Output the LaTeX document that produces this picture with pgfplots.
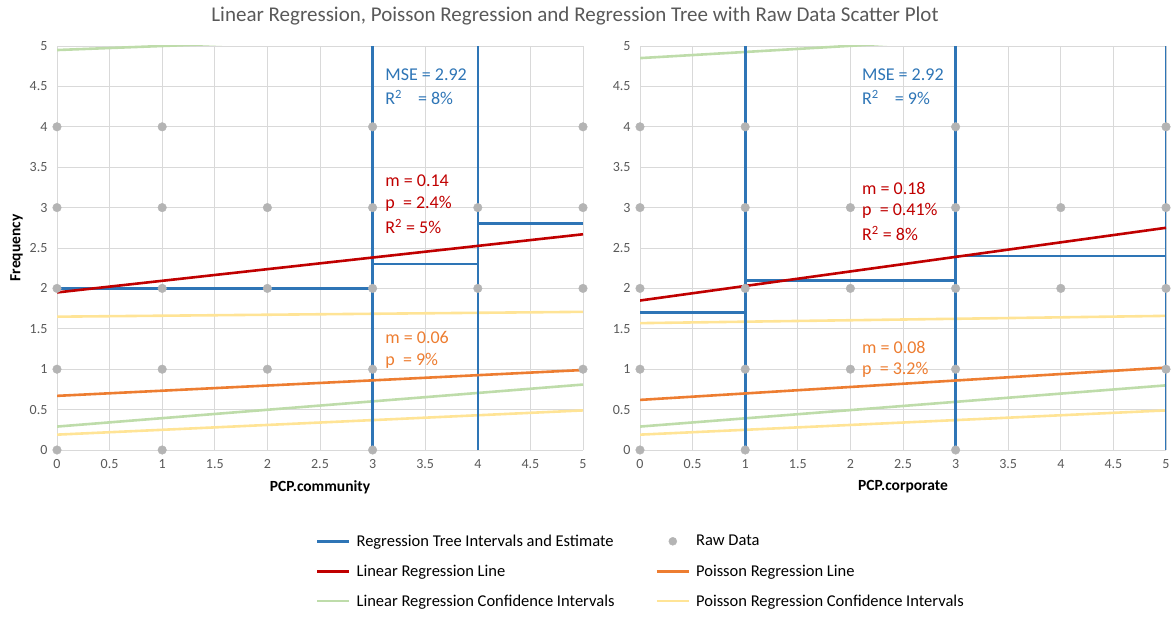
\documentclass[border=0pt]{standalone}
\usepackage{fontspec}
\setmainfont{Carlito}
\usepackage{pgfplots}
\pgfplotsset{compat=1.18}
\definecolor{treeblue}{RGB}{46,117,182}
\definecolor{linred}{RGB}{192,0,0}
\definecolor{poisorange}{RGB}{237,125,49}
\definecolor{cigreen}{RGB}{190,220,170}
\definecolor{ciyellow}{RGB}{255,228,150}
\definecolor{dotgray}{RGB}{180,180,180}
\definecolor{gridgray}{RGB}{217,217,217}
\definecolor{txtgray}{RGB}{89,89,89}
\tikzset{
  ln/.style={line width=2.6pt},
  ann/.style={font=\fontsize{18}{20}\selectfont, anchor=west, inner sep=0pt},
}
\pgfplotsset{
  base/.style={
    scale only axis, width=526pt, height=404pt,
    xmin=0, xmax=5, ymin=0, ymax=5,
    xtick={0,0.5,1,1.5,2,2.5,3,3.5,4,4.5,5},
    ytick={0,0.5,1,1.5,2,2.5,3,3.5,4,4.5,5},
    grid=major, major grid style={gridgray, line width=0.9pt},
    axis line style={draw=none}, major tick length=0pt,
    /pgf/number format/assume math mode=true,
    tick label style={font=\fontsize{14}{16}\selectfont, text=txtgray},
    xticklabel style={yshift=-6pt},
    yticklabel style={xshift=-6pt},
    label style={font=\bfseries\fontsize{15.5}{17}\selectfont},
    xlabel style={yshift=-5pt},
    clip mode=individual,
  },
}
\begin{document}
\begin{tikzpicture}
\useasboundingbox (-57pt,-174pt) rectangle (1117pt,450pt);
% ---------------- left axis
\begin{axis}[base, at={(0pt,0pt)}, anchor=south west,
  xlabel={PCP.community}, ylabel={Frequency},
  ylabel style={yshift=0pt},
  legend columns=2,
  legend style={at={(1.11,-0.300)}, anchor=center, draw=none,
    font=\fontsize{16.5}{18}\selectfont, column sep=4pt,
    /tikz/column 2/.style={column sep=39pt},
    row sep=13pt, inner sep=0pt},
  legend cell align=left,
  legend image code/.code={\draw[#1] (0pt,0pt) -- (32pt,0pt);},
]
\addlegendimage{treeblue, line width=2.6pt}
\addlegendentry{Regression Tree Intervals and Estimate}
\addlegendimage{legend image code/.code={\fill[dotgray] (16pt,0pt) circle (4pt);}}
\addlegendentry{Raw Data}
\addlegendimage{linred, line width=2.6pt}
\addlegendentry{Linear Regression Line}
\addlegendimage{poisorange, line width=2.6pt}
\addlegendentry{Poisson Regression Line}
\addlegendimage{cigreen, line width=2.6pt}
\addlegendentry{Linear Regression Confidence Intervals}
\addlegendimage{ciyellow, line width=2.6pt}
\addlegendentry{Poisson Regression Confidence Intervals}
% CI lines
\addplot[cigreen, ln, forget plot] coordinates {(0,0.29) (5,0.81)};
\addplot[cigreen, ln, forget plot] coordinates {(0,4.95) (5,5.2)};
\addplot[ciyellow, ln, forget plot] coordinates {(0,1.65) (5,1.71)};
\addplot[ciyellow, ln, forget plot] coordinates {(0,0.19) (5,0.49)};
% tree
\addplot[treeblue, ln, forget plot] coordinates {(3,0) (3,5)};
\addplot[treeblue, ln, forget plot] coordinates {(4,0) (4,5)};
\addplot[treeblue, ln, forget plot] coordinates {(0,2) (3,2)};
\addplot[treeblue, ln, forget plot] coordinates {(3,2.3) (4,2.3)};
\addplot[treeblue, ln, forget plot] coordinates {(4,2.8) (5,2.8)};
% regressions
\addplot[poisorange, ln, forget plot] coordinates {(0,0.67) (5,0.99)};
\addplot[linred, ln, forget plot] coordinates {(0,1.95) (5,2.67)};
% raw data
\addplot[only marks, mark=*, mark size=4.3pt, dotgray, forget plot] coordinates {
(0,0) (0,1) (0,2) (0,3) (0,4)
(1,0) (1,1) (1,2) (1,3) (1,4)
(2,1) (2,2) (2,3)
(3,0) (3,1) (3,2) (3,3) (3,4)
(4,2) (4,3)
(5,1) (5,2) (5,3) (5,4)};
\node[ann, text=treeblue] at (axis cs:3.12,4.64) {MSE = 2.92};
\node[ann, text=treeblue] at (axis cs:3.12,4.36) {R\textsuperscript{2}\hspace{16pt}= 8\%};
\node[ann, text=linred] at (axis cs:3.12,3.33) {m = 0.14};
\node[ann, text=linred] at (axis cs:3.12,3.05) {p\ \ = 2.4\%};
\node[ann, text=linred] at (axis cs:3.12,2.77) {R\textsuperscript{2} = 5\%};
\node[ann, text=poisorange] at (axis cs:3.12,1.39) {m = 0.06};
\node[ann, text=poisorange] at (axis cs:3.12,1.10) {p\ \ = 9\%};
\end{axis}
% ---------------- right axis
\begin{axis}[base, at={(583pt,0pt)}, anchor=south west,
  xlabel={PCP.corporate}]
\addplot[cigreen, ln] coordinates {(0,0.29) (5,0.80)};
\addplot[cigreen, ln] coordinates {(0,4.85) (5,5.23)};
\addplot[ciyellow, ln] coordinates {(0,1.57) (5,1.66)};
\addplot[ciyellow, ln] coordinates {(0,0.19) (5,0.49)};
\addplot[treeblue, ln] coordinates {(1,0) (1,5)};
\addplot[treeblue, ln] coordinates {(3,0) (3,5)};
\addplot[treeblue, ln] coordinates {(5,0) (5,5)};
\addplot[treeblue, ln] coordinates {(0,1.7) (1,1.7)};
\addplot[treeblue, ln] coordinates {(1,2.1) (3,2.1)};
\addplot[treeblue, ln] coordinates {(3,2.4) (5,2.4)};
\addplot[poisorange, ln] coordinates {(0,0.62) (5,1.02)};
\addplot[linred, ln] coordinates {(0,1.85) (5,2.75)};
\addplot[only marks, mark=*, mark size=4.3pt, dotgray] coordinates {
(0,0) (0,1) (0,2) (0,3) (0,4)
(1,0) (1,1) (1,2) (1,3) (1,4)
(2,1) (2,2) (2,3)
(3,0) (3,1) (3,2) (3,3) (3,4)
(4,2) (4,3)
(5,1) (5,2) (5,3) (5,4)};
\node[ann, text=treeblue] at (axis cs:2.11,4.64) {MSE = 2.92};
\node[ann, text=treeblue] at (axis cs:2.11,4.36) {R\textsuperscript{2}\hspace{16pt}= 9\%};
\node[ann, text=linred] at (axis cs:2.11,3.24) {m = 0.18};
\node[ann, text=linred] at (axis cs:2.11,2.96) {p\ \ = 0.41\%};
\node[ann, text=linred] at (axis cs:2.11,2.68) {R\textsuperscript{2} = 8\%};
\node[ann, text=poisorange] at (axis cs:2.11,1.27) {m = 0.08};
\node[ann, text=poisorange] at (axis cs:2.11,0.99) {p\ \ = 3.2\%};
\end{axis}
\node[font=\fontsize{21}{24}\selectfont, text=txtgray] at (518pt,434pt)
  {Linear Regression, Poisson Regression and Regression Tree with Raw Data Scatter Plot};
\end{tikzpicture}
\end{document}
